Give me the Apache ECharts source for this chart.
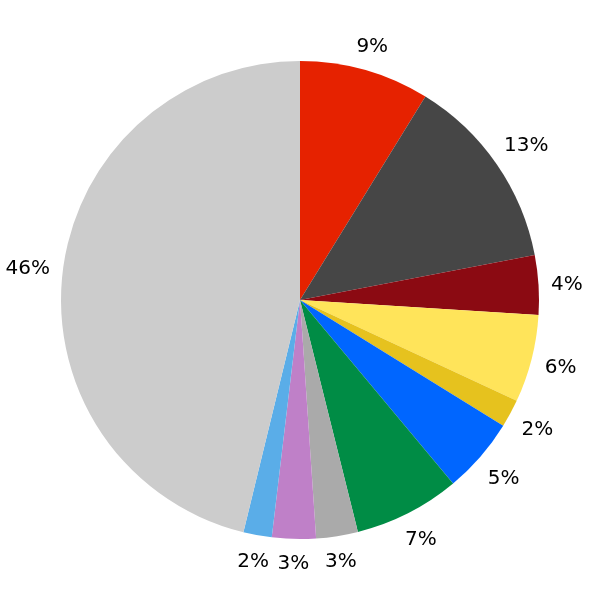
<!DOCTYPE html>
<html>
<head>
<meta charset="utf-8">
<script src="https://cdn.jsdelivr.net/npm/echarts@6/dist/echarts.min.js"></script>
<style>html,body{margin:0;padding:0;background:#fff}#c{width:600px;height:600px}</style>
</head>
<body>
<div id="c"></div>
<script>
const categories = ['A', 'B', 'C', 'D', 'E', 'F', 'G', 'H', 'I', 'J', 'K'];
const values = [8.79, 13.19, 4.01, 5.94, 1.89, 5.11, 7.17, 2.82, 2.96, 1.92, 46.19];
const colors = ['#e62200', '#464646', '#8b0a12', '#ffe45a', '#e6c21e', '#0066ff', '#008c45', '#aaaaaa', '#bf80c8', '#5aade8', '#cccccc'];

const R = 239;      // pie radius
const GAP = 12;     // label clearance beyond the rim
const BASELINE_SHIFT = 2;

const chart = echarts.init(document.getElementById('c'), null, { renderer: 'canvas' });
chart.setOption({
  animation: false,
  series: [{
    type: 'pie',
    center: ['50%', '50%'],
    radius: R,
    startAngle: 90,
    clockwise: true,
    avoidLabelOverlap: false,
    data: categories.map((n, i) => ({ name: n, value: values[i], itemStyle: { color: colors[i] } })),
    itemStyle: { borderWidth: 0 },
    emphasis: { disabled: true },
    label: {
      show: true,
      position: 'outside',
      fontFamily: 'DejaVu Sans',
      fontSize: 20,
      color: '#000',
      formatter: p => Math.round(p.percent) + '%'
    },
    labelLine: { show: true, length: 10, length2: 0, lineStyle: { opacity: 0 } },
    labelLayout: function (p) {
      const pts = p.labelLinePoints;
      if (!pts) return {};
      const x0 = pts[0][0], y0 = pts[0][1];
      let dx = pts[1][0] - x0, dy = pts[1][1] - y0;
      const len = Math.sqrt(dx * dx + dy * dy) || 1;
      dx /= len; dy /= len;
      const w = p.labelRect.width, h = p.labelRect.height;
      const d = GAP + Math.abs(dx) * w / 2 + Math.abs(dy) * h / 2;
      return { x: x0 + dx * d, y: y0 + dy * d + BASELINE_SHIFT, align: 'center', verticalAlign: 'middle' };
    }
  }]
});
</script>
</body>
</html>
